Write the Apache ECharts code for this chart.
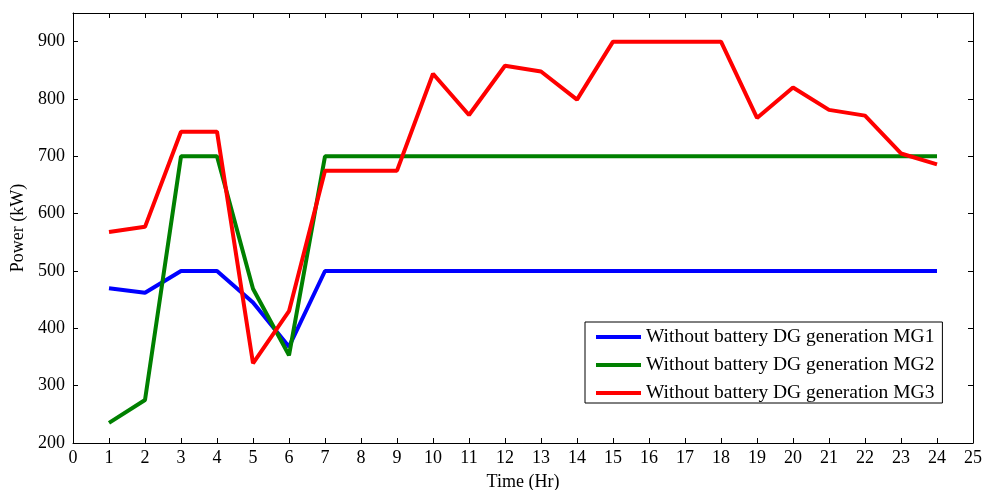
<html>
<head>
<meta charset="UTF-8">
<script src="https://cdn.jsdelivr.net/npm/echarts@6/dist/echarts.min.js"></script>
</head>
<body style="margin:0;background:#fff;">
<div id="main" style="width:983px;height:490px;"></div>
<script type="text/javascript">
// hours 1..24
var hours = [1,2,3,4,5,6,7,8,9,10,11,12,13,14,15,16,17,18,19,20,21,22,23,24];
var mg1 = [470,462,500,500,445,368,500,500,500,500,500,500,500,500,500,500,500,500,500,500,500,500,500,500];
var mg2 = [235,275,700,700,469,353,700,700,700,700,700,700,700,700,700,700,700,700,700,700,700,700,700,700];
var mg3 = [568,577,743,743,339,430,675,675,675,844,772,858,848,799,900,900,900,900,767,820,781,771,705,686];
var names = ['Without battery DG generation MG1','Without battery DG generation MG2','Without battery DG generation MG3'];
var colors = ['#0000ff','#008000','#ff0000'];

function pairs(vals){
	var res = [];
	for(var i=0;i<hours.length;i++){
		res.push([hours[i], vals[i]]);
	}
	return res;
}

var font = 'Liberation Serif';
function axisLine(){ return {show:true, onZero:false, lineStyle:{color:'#000', width:1}}; }
function tick(){ return {show:true, inside:true, length:5, lineStyle:{color:'#000'}}; }

var series = [mg1, mg2, mg3].map(function(vals, i){
	return {
		name: names[i],
		type: 'line',
		data: pairs(vals),
		symbol: 'none',
		lineStyle: {width: 4, color: colors[i]},
		itemStyle: {color: colors[i]},
		animation: false
	};
});

var option = {
	animation: false,
	grid: {left:73, right:10, top:13, bottom:47, containLabel:false, outerBoundsMode:'none'},
	legend: {
		orient: 'vertical',
		left: 585, top: 322,
		backgroundColor: '#fff',
		borderColor: '#000', borderWidth: 1,
		padding: [5, 8, 0, 11],
		itemGap: 8,
		itemWidth: 45, itemHeight: 4,
		icon: 'rect',
		textStyle: {fontFamily: font, fontSize: 19.5, color: '#000'},
		data: names
	},
	xAxis: [{
		type: 'value', min: 0, max: 25, interval: 1,
		name: 'Time (Hr)', nameLocation: 'middle', nameGap: 30,
		nameTextStyle: {fontFamily: font, fontSize: 18, color: '#000'},
		axisLine: axisLine(), axisTick: tick(),
		axisLabel: {fontFamily: font, fontSize: 18, color: '#000', margin: 6},
		splitLine: {show:false}
	},{
		type: 'value', min: 0, max: 25, interval: 1, position: 'top',
		axisLine: axisLine(), axisTick: tick(),
		axisLabel: {show:false}, splitLine: {show:false}
	}],
	yAxis: [{
		type: 'value', min: 200, max: 950, interval: 100,
		name: 'Power (kW)', nameLocation: 'middle', nameGap: 45,
		nameTextStyle: {fontFamily: font, fontSize: 18, color: '#000'},
		axisLine: axisLine(), axisTick: tick(),
		axisLabel: {fontFamily: font, fontSize: 18, color: '#000', margin: 8, showMaxLabel: false},
		splitLine: {show:false}
	},{
		type: 'value', min: 200, max: 950, interval: 100, position: 'right',
		axisLine: axisLine(), axisTick: tick(),
		axisLabel: {show:false}, splitLine: {show:false}
	}],
	series: series
};

var chart = echarts.init(document.getElementById('main'));
chart.setOption(option);
</script>
</body>
</html>
